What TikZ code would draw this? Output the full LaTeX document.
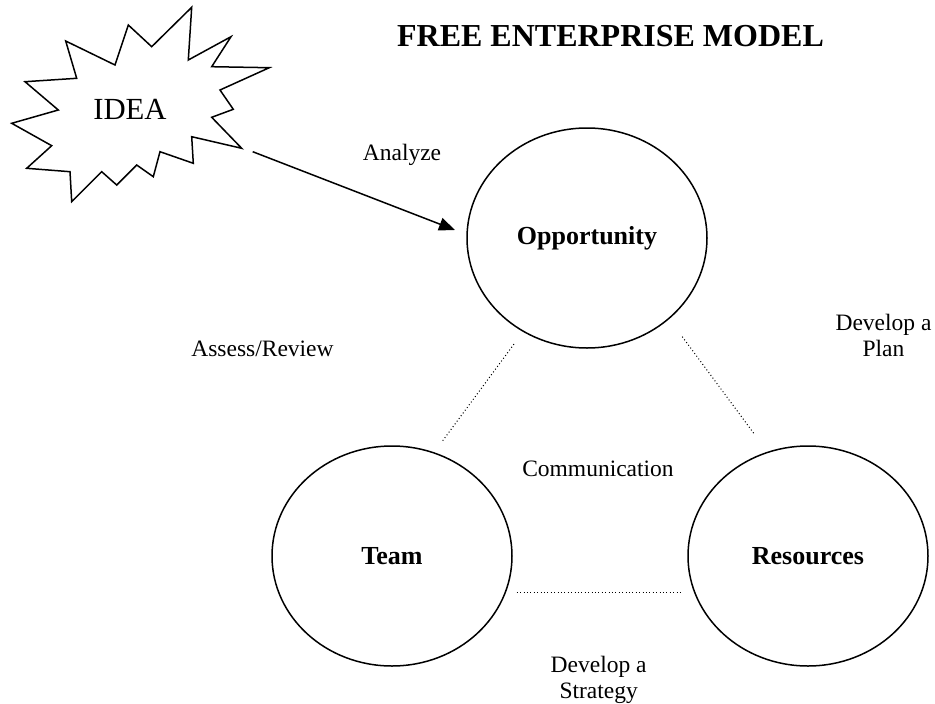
\documentclass[tikz,border=0pt]{standalone}
\usepackage{fontspec}
\setmainfont{Liberation Serif}
\usetikzlibrary{shapes.geometric,arrows.meta}
\begin{document}
\begin{tikzpicture}[x=1pt,y=-1pt,
  circ/.style={ellipse,draw,line width=1.5pt,minimum width=240pt,minimum height=220pt,
    inner sep=0pt,font=\fontsize{26}{30}\selectfont\bfseries},
  lbl/.style={inner sep=0pt,font=\fontsize{23.5}{26}\selectfont,align=center},
  link/.style={line width=1pt,dash pattern=on 1pt off 2.4pt},
  burst/.style={line width=1.5pt,line join=miter}]
\useasboundingbox (0,0) rectangle (935,704);

% title
\node[inner sep=0pt,anchor=base,font=\fontsize{32}{36}\selectfont\bfseries] (title) at (610.5,46) {FREE ENTERPRISE MODEL};

% idea starburst
\draw[burst] (191.7,7.3) -- (188.3,60) -- (231,36.7) -- (211.7,66.7) -- (269.3,67.7)
  -- (220,90) -- (233.3,109.3) -- (211.7,117.3) -- (241.7,148.3) -- (191.7,136.7)
  -- (193.3,163.3) -- (160,151.7) -- (153.3,176.7) -- (136.7,165) -- (116.7,185)
  -- (101.7,171.7) -- (71.7,201.7) -- (70,171.7) -- (26.7,168.3) -- (51.7,145.7)
  -- (11.7,123.3) -- (58.3,110) -- (25,81.7) -- (76.7,78.3) -- (65.7,41)
  -- (115,65) -- (128.3,25) -- (151.7,46.7) -- cycle;
\node[inner sep=0pt,anchor=base,font=\fontsize{30.7}{34}\selectfont] (idea) at (130,119) {IDEA};

% the three circles
\node[circ] (opp) at (587,238) {Opportunity};
\node[circ] (team) at (392,556) {Team};
\node[circ] (res) at (808,556) {Resources};

% arrow from the idea to the opportunity
\coordinate (ideaout) at (252.7,151.7);
\coordinate (oppin) at (455,230);
\draw[line width=1.5pt,-{Triangle[length=16pt,width=13pt]}] (ideaout) -- (oppin);

% dotted links between the circles
\coordinate (teamtop) at (442.7,440.7);
\coordinate (oppleft) at (515,342.7);
\coordinate (oppright) at (682.3,336.7);
\coordinate (restop) at (755,435);
\coordinate (teamright) at (516.7,592.3);
\coordinate (resleft) at (682.3,592.3);
\draw[link] (teamtop) -- (oppleft);
\draw[link] (oppright) -- (restop);
\draw[link] (teamright) -- (resleft);

% labels
\node[lbl,anchor=base] (analyze) at (402,160.7) {Analyze};
\node[lbl,anchor=base] (assess) at (262.5,356) {Assess/Review};
\node[lbl,anchor=base] (comm) at (598,476.7) {Communication};
\node[lbl,anchor=north] (plan) at (883.5,314) {Develop a\\Plan};
\node[lbl,anchor=north] (strategy) at (598.7,655.7) {Develop a\\Strategy};
\end{tikzpicture}
\end{document}
